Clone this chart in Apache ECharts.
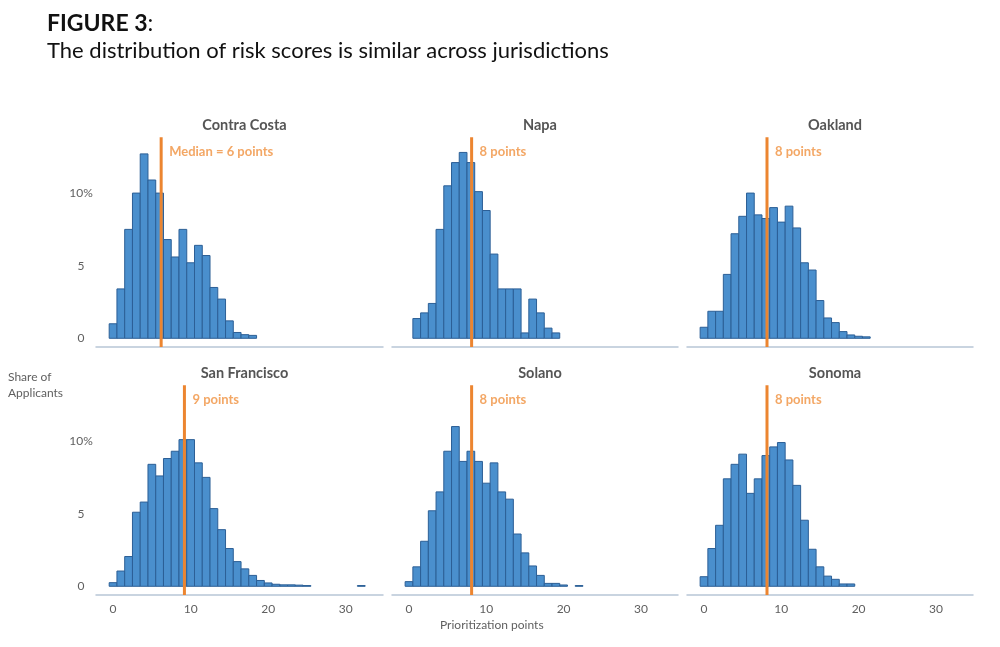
<!DOCTYPE html>
<html>
<head>
<meta charset="utf-8">
<script src="https://cdn.jsdelivr.net/npm/echarts@6/dist/echarts.min.js"></script>
<style>
  html, body { margin: 0; padding: 0; background: #fff; }
  #chart { width: 1000px; height: 647px; }
</style>
</head>
<body>
<div id="chart"></div>
<script>
// jurisdictions, in panel order
var counties = ['Contra Costa', 'Napa', 'Oakland', 'San Francisco', 'Solano', 'Sonoma'];
// first score that has a bar
var firstScore = [0, 1, 0, 0, 0, 0];
// share of applicants (%) by prioritization points
var contraCosta = [1.0, 3.4, 7.5, 10.0, 12.7, 10.9, 10.0, 6.8, 5.6, 7.5, 5.2, 6.4, 5.7, 3.5, 2.7, 1.2, 0.4, 0.25, 0.2];
var napa = [1.36, 1.75, 2.4, 7.5, 10.5, 12.1, 12.8, 12.1, 10.1, 8.8, 5.8, 3.4, 3.4, 3.4, 0.37, 2.7, 1.75, 0.7, 0.37];
var oakland = [0.76, 1.86, 1.86, 4.4, 7.2, 8.4, 10.0, 8.5, 8.25, 9.0, 8.0, 9.1, 7.6, 5.2, 4.7, 2.6, 1.4, 1.08, 0.46, 0.23, 0.14, 0.1];
var sanFrancisco = [0.25, 1.05, 2.05, 5.1, 5.8, 8.4, 7.6, 8.8, 9.3, 10.1, 10.1, 8.5, 7.5, 5.35, 3.9, 2.6, 1.7, 1.2, 0.75, 0.4, 0.23, 0.14, 0.1, 0.1, 0.08, 0.05, 0, 0, 0, 0, 0, 0, 0.05];
var solano = [0.32, 1.34, 3.1, 5.2, 6.5, 9.3, 11.0, 8.6, 9.3, 8.6, 7.1, 8.5, 6.5, 6.0, 3.6, 2.3, 1.4, 0.75, 0.2, 0.2, 0.09, 0, 0.05];
var sonoma = [0.66, 2.6, 4.2, 7.4, 8.4, 9.1, 6.4, 7.4, 9.0, 9.6, 9.9, 8.7, 6.95, 4.55, 2.55, 1.34, 0.7, 0.48, 0.16, 0.16];
var shares = [contraCosta, napa, oakland, sanFrancisco, solano, sonoma];
// median marker position and its label
var medianPos = [6.2, 8.1, 8.15, 9.2, 8.1, 8.15];
var medianText = ['Median = 6 points', '8 points', '8 points', '9 points', '8 points', '8 points'];
// tick labels
var xTicks = [0, 10, 20, 30];
var yTicks = [0, 5, 10];

var myChart = echarts.init(document.getElementById('chart'));
var font = 'Lato, "DejaVu Sans", sans-serif';
var grey = '#5f5f5f';

var cols = [{ left: 96, width: 287 }, { left: 392, width: 286 }, { left: 687, width: 286 }];
var rows = [{ top: 135 }, { top: 383 }];

function renderBar(params, api) {
    var x = api.value(0), y = api.value(1);
    if (!y) return null;
    var p0 = api.coord([x - 0.5, y]);
    var p1 = api.coord([x + 0.5, 0]);
    return {
        type: 'rect',
        shape: { x: p0[0], y: p0[1], width: p1[0] - p0[0], height: p1[1] - p0[1] },
        style: { fill: '#4a8fcd', stroke: '#2c5f96', lineWidth: 1 }
    };
}

var grid = [], xAxis = [], yAxis = [], series = [], title = [];

title.push({
    left: 42, top: 7,
    text: '{b|FIGURE 3}{n|:}',
    textStyle: { rich: {
        b: { fontFamily: font, fontSize: 23, fontWeight: 'bold', color: '#111' },
        n: { fontFamily: font, fontSize: 23, fontWeight: 'normal', color: '#111' }
    } }
});
title.push({
    left: 42, top: 35,
    text: 'The distribution of risk scores is similar across jurisdictions',
    textStyle: { fontFamily: font, fontSize: 22, fontWeight: 'normal', color: '#111' }
});

counties.forEach(function (name, i) {
    var c = cols[i % 3], r = rows[Math.floor(i / 3)];
    var bottomRow = i >= 3, leftCol = i % 3 === 0;
    grid.push({ left: c.left, width: c.width, top: r.top, height: 212 });
    xAxis.push({
        type: 'value', gridIndex: i, min: -2.2, max: 34.8,
        splitLine: { show: false },
        axisTick: { show: false },
        axisLine: { show: true, onZero: false, lineStyle: { color: '#b8c6d6', width: 1.5 } },
        axisLabel: { show: bottomRow, customValues: xTicks, margin: 8, color: grey, fontFamily: font, fontSize: 12 }
    });
    yAxis.push({
        type: 'value', gridIndex: i, min: -0.6, max: 14,
        splitLine: { show: false },
        axisTick: { show: false },
        axisLine: { show: false },
        axisLabel: {
            show: leftCol, customValues: yTicks, margin: 15, align: 'center',
            color: grey, fontFamily: font, fontSize: 12,
            formatter: function (v) { return v === 10 ? '10%' : String(v); }
        }
    });
    var data = shares[i].map(function (v, k) { return [firstScore[i] + k, v]; });
    series.push({
        type: 'custom', name: name, xAxisIndex: i, yAxisIndex: i,
        renderItem: renderBar, data: data, silent: true
    });
    series.push({
        type: 'line', xAxisIndex: i, yAxisIndex: i, silent: true,
        symbol: 'none', z: 5,
        lineStyle: { color: '#ec8530', width: 3 },
        data: [[medianPos[i], -0.6], [medianPos[i], 13.85]]
    });
    series.push({
        type: 'scatter', xAxisIndex: i, yAxisIndex: i, silent: true,
        symbolSize: 0,
        data: [[medianPos[i], 12.85]],
        label: {
            show: true, position: 'right', distance: 8,
            formatter: medianText[i],
            color: '#f0913f', fontFamily: font, fontSize: 13, fontWeight: 'bold'
        }
    });
    title.push({
        text: name, left: c.left + c.width / 2, top: r.top - 22, textAlign: 'center',
        textStyle: { fontFamily: font, fontSize: 14.5, fontWeight: 'bold', color: '#555' }
    });
});

var option = {
    animation: false,
    title: title,
    grid: grid,
    xAxis: xAxis,
    yAxis: yAxis,
    series: series,
    graphic: [
        { type: 'text', left: 8, top: 369, style: { text: 'Share of\nApplicants', fill: grey, font: '12px ' + font, lineHeight: 16 } },
        { type: 'text', left: 440, top: 619, style: { text: 'Prioritization points', fill: grey, font: '12px ' + font } }
    ]
};
myChart.setOption(option);
</script>
</body>
</html>
